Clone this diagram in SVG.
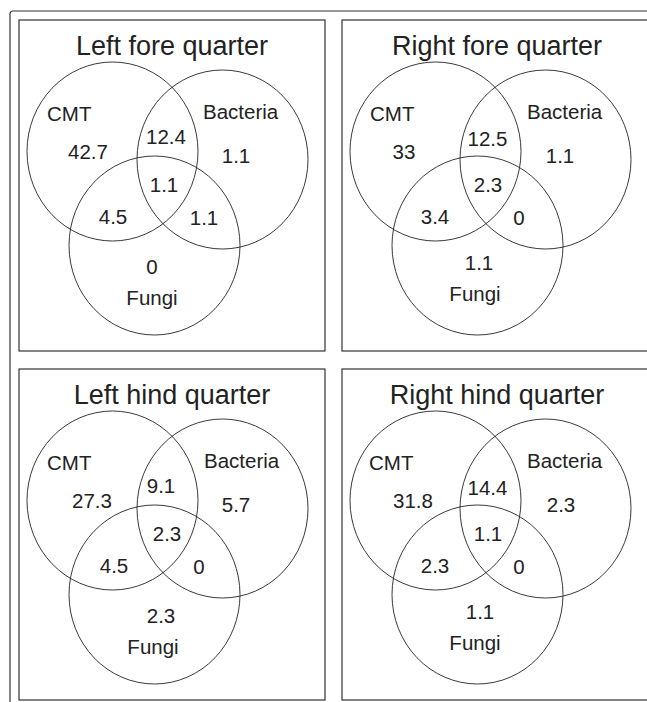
<svg xmlns="http://www.w3.org/2000/svg" xmlns:xlink="http://www.w3.org/1999/xlink" width="647" height="702" viewBox="0 0 647 702">
<style>
.frame{fill:none;stroke:#333;stroke-width:1.2}
.box{fill:none;stroke:#333;stroke-width:1.2}
.c{fill:none;stroke:#222;stroke-width:0.9}
text{font-family:"Liberation Sans",Arial,sans-serif;fill:#222}
.t{font-size:27px;text-anchor:middle}
.l{font-size:20.5px}
.n{font-size:20.5px;text-anchor:middle}
</style>
<defs>
<g id="venn">
<ellipse class="c" cx="112.5" cy="151.5" rx="85.5" ry="89.5"/>
<ellipse class="c" cx="222.5" cy="159.5" rx="85.5" ry="89.5"/>
<ellipse class="c" cx="154.5" cy="245.5" rx="85.5" ry="89.5"/>
</g>
</defs>
<path class="frame" d="M10,702 V14 Q10,11 13,11 H647"/>
<g id="left-fore">
<rect class="box" x="19" y="20" width="306" height="331"/>
<use xlink:href="#venn"/>
<text class="t" x="172" y="55">Left fore quarter</text>
<text class="l" x="47" y="121">CMT</text>
<text class="l" x="203" y="119">Bacteria</text>
<text class="n" x="88" y="159">42.7</text>
<text class="n" x="166" y="144">12.4</text>
<text class="n" x="236" y="163">1.1</text>
<text class="n" x="164" y="192">1.1</text>
<text class="n" x="113" y="224">4.5</text>
<text class="n" x="204" y="225">1.1</text>
<text class="n" x="152" y="274">0</text>
<text class="n" x="152" y="305">Fungi</text>
</g>
<g id="right-fore">
<rect class="box" x="342" y="20" width="320" height="331"/>
<use xlink:href="#venn" transform="translate(323,0)"/>
<text class="t" x="497" y="55">Right fore quarter</text>
<text class="l" x="370" y="121">CMT</text>
<text class="l" x="527" y="119">Bacteria</text>
<text class="n" x="404" y="159">33</text>
<text class="n" x="487.5" y="146">12.5</text>
<text class="n" x="560" y="163">1.1</text>
<text class="n" x="488" y="192">2.3</text>
<text class="n" x="435" y="224">3.4</text>
<text class="n" x="519" y="225">0</text>
<text class="n" x="479" y="270">1.1</text>
<text class="n" x="475" y="301">Fungi</text>
</g>
<g id="left-hind">
<rect class="box" x="19" y="369" width="306" height="331"/>
<use xlink:href="#venn" transform="translate(0,349)"/>
<text class="t" x="172" y="404">Left hind quarter</text>
<text class="l" x="47" y="470">CMT</text>
<text class="l" x="204" y="468">Bacteria</text>
<text class="n" x="92" y="508">27.3</text>
<text class="n" x="161" y="493">9.1</text>
<text class="n" x="236" y="512">5.7</text>
<text class="n" x="167" y="541">2.3</text>
<text class="n" x="114" y="573">4.5</text>
<text class="n" x="199" y="574">0</text>
<text class="n" x="161" y="623">2.3</text>
<text class="n" x="153" y="654">Fungi</text>
</g>
<g id="right-hind">
<rect class="box" x="342" y="369" width="320" height="331"/>
<use xlink:href="#venn" transform="translate(323,349)"/>
<text class="t" x="497" y="404">Right hind quarter</text>
<text class="l" x="369" y="470">CMT</text>
<text class="l" x="527" y="468">Bacteria</text>
<text class="n" x="413" y="508">31.8</text>
<text class="n" x="487.5" y="495">14.4</text>
<text class="n" x="561" y="512">2.3</text>
<text class="n" x="488" y="541">1.1</text>
<text class="n" x="435" y="573">2.3</text>
<text class="n" x="519" y="574">0</text>
<text class="n" x="480" y="619">1.1</text>
<text class="n" x="475" y="650">Fungi</text>
</g>
</svg>
